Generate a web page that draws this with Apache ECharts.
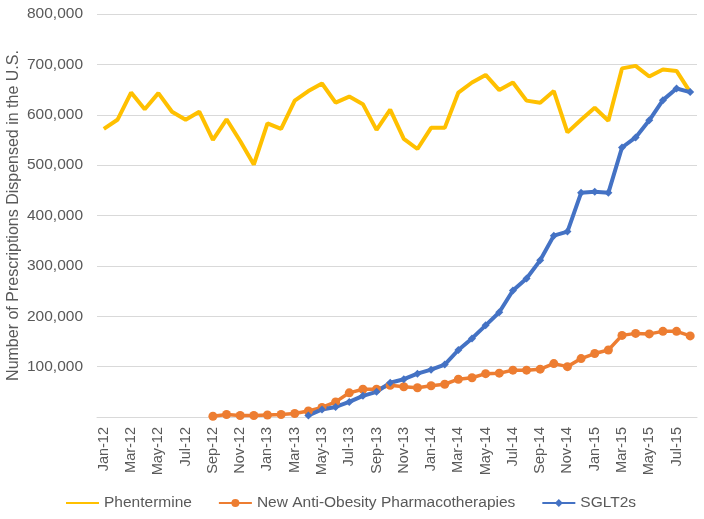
<!DOCTYPE html>
<html>
<head>
<meta charset="utf-8">
<script src="https://cdn.jsdelivr.net/npm/echarts@6/dist/echarts.min.js"></script>
<style>
html,body{margin:0;padding:0;background:#fff;}
#chart{width:704px;height:519px;}
</style>
</head>
<body>
<div id="chart"></div>
<script>
const categories = [
  'Jan-12','Feb-12','Mar-12','Apr-12','May-12','Jun-12','Jul-12','Aug-12','Sep-12','Oct-12','Nov-12','Dec-12',
  'Jan-13','Feb-13','Mar-13','Apr-13','May-13','Jun-13','Jul-13','Aug-13','Sep-13','Oct-13','Nov-13','Dec-13',
  'Jan-14','Feb-14','Mar-14','Apr-14','May-14','Jun-14','Jul-14','Aug-14','Sep-14','Oct-14','Nov-14','Dec-14',
  'Jan-15','Feb-15','Mar-15','Apr-15','May-15','Jun-15','Jul-15','Aug-15'
];
const phentermine = [
  572000,590000,644000,611000,643000,606000,590000,606000,550000,591000,548000,501000,
  583000,572000,628000,647000,662000,624000,636000,621000,570000,610000,552000,532000,
  574000,574000,644000,664000,679000,649000,664000,628000,624000,647000,565000,590000,
  614000,588000,692000,697000,676000,690000,687000,645000
];
const newAntiObesity = [
  null,null,null,null,null,null,null,null,1500,5000,3000,3000,
  4000,5000,7000,12000,19000,30000,48000,55000,55000,63000,60000,58000,
  62000,65000,75000,78000,86000,87000,93000,93000,95000,106000,100000,116000,
  126000,133000,162000,166000,165000,170000,170000,161000
];
const sglt2 = [
  null,null,null,null,null,null,null,null,null,null,null,null,
  null,null,null,3000,15000,20000,30000,42000,50000,68000,75000,86000,
  94000,104000,133000,156000,182000,208000,251000,275000,311000,360000,368000,445000,
  447000,445000,535000,555000,589000,629000,652000,645000
];
const seriesNames = ['Phentermine','New Anti-Obesity Pharmacotherapies','SGLT2s'];
const yAxisTitle = 'Number of Prescriptions Dispensed in the U.S.';

const FONT = '"Liberation Sans", Arial, sans-serif';
const chart = echarts.init(document.getElementById('chart'));
chart.setOption({
  animation: false,
  textStyle: {fontFamily: FONT},
  grid: {left: 97, right: 7, top: 14, bottom: 102, containLabel: false, outerBoundsMode: 'none'},
  legend: {
    top: 490, left: 60,
    itemWidth: 33, itemHeight: 10, itemGap: 26,
    textStyle: {fontSize: 15.5, color: '#595959', fontFamily: FONT},
    data: [
      {name: seriesNames[0], itemStyle: {opacity: 0}},
      {name: seriesNames[1]},
      {name: seriesNames[2]}
    ]
  },
  xAxis: {
    type: 'category',
    data: categories,
    boundaryGap: true,
    axisLine: {lineStyle: {color: '#d9d9d9'}},
    axisTick: {show: false},
    axisLabel: {interval: 1, rotate: 90, margin: 10, color: '#595959', fontSize: 14.5, fontFamily: FONT}
  },
  yAxis: {
    type: 'value',
    min: 0, max: 800000, interval: 100000,
    name: yAxisTitle,
    nameLocation: 'middle',
    nameGap: 75,
    nameMoveOverlap: false,
    nameTextStyle: {fontSize: 16, color: '#595959', fontFamily: FONT},
    axisLine: {show: false},
    axisTick: {show: false},
    splitLine: {lineStyle: {color: '#d9d9d9', width: 1}},
    axisLabel: {
      margin: 14, color: '#595959', fontSize: 15.5, fontFamily: FONT,
      formatter: v => v === 0 ? '' : v.toLocaleString('en-US')
    }
  },
  series: [
    {
      name: seriesNames[0], type: 'line', data: phentermine,
      symbol: 'none', lineStyle: {width: 4, color: '#FFC000'}, itemStyle: {color: '#FFC000'}
    },
    {
      name: seriesNames[1], type: 'line', data: newAntiObesity,
      symbol: 'circle', symbolSize: 9, showAllSymbol: true,
      lineStyle: {width: 3.5, color: '#ED7D31'}, itemStyle: {color: '#ED7D31'}
    },
    {
      name: seriesNames[2], type: 'line', data: sglt2,
      symbol: 'diamond', symbolSize: 8, showAllSymbol: true,
      lineStyle: {width: 4, color: '#4472C4'}, itemStyle: {color: '#4472C4'}
    }
  ]
});
</script>
</body>
</html>
